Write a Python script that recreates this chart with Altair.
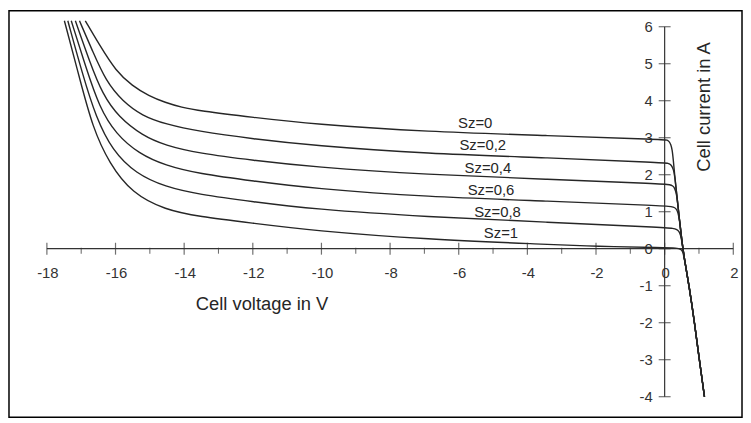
import altair as alt
import pandas as pd

# ---- data ----
SZ_NAMES = ["Sz=0", "Sz=0,2", "Sz=0,4", "Sz=0,6", "Sz=0,8", "Sz=1"]

V_SZ0 = [-16.88, -16.47, -15.99, -15.51, -15.03, -14.55, -14.07, -13.58, -12.0, -10.26, -6.9, -3.47, 0.0, 0.07, 0.13, 0.18, 0.22, 0.25]
I_SZ0 = [6.16, 5.51, 4.80, 4.40, 4.13, 3.95, 3.82, 3.73, 3.55, 3.37, 3.16, 3.06, 2.95, 2.94, 2.90, 2.82, 2.68, 2.42]

V_SZ02 = [-17.05, -16.67, -16.28, -15.80, -15.22, -14.55, -13.58, -12.0, -10.26, -6.9, -3.47, 0.0, 0.10, 0.17, 0.22, 0.26]
I_SZ02 = [6.16, 5.34, 4.53, 3.99, 3.59, 3.37, 3.17, 2.97, 2.79, 2.57, 2.46, 2.32, 2.31, 2.28, 2.22, 2.12]

V_SZ04 = [-17.17, -16.76, -16.38, -15.90, -15.22, -14.55, -13.58, -12.0, -10.26, -6.9, -3.47, 0.0, 0.15, 0.24, 0.29, 0.33]
I_SZ04 = [6.16, 5.07, 4.17, 3.55, 3.06, 2.79, 2.58, 2.39, 2.21, 2.00, 1.88, 1.75, 1.73, 1.70, 1.64, 1.53]

V_SZ06 = [-17.29, -16.86, -16.47, -15.99, -15.32, -14.55, -13.58, -12.0, -10.26, -6.9, -3.47, 0.0, 0.20, 0.30, 0.35, 0.39]
I_SZ06 = [6.16, 4.89, 3.82, 3.10, 2.57, 2.25, 2.03, 1.83, 1.63, 1.40, 1.29, 1.16, 1.14, 1.11, 1.06, 0.97]

V_SZ08 = [-17.39, -16.96, -16.57, -16.09, -15.41, -14.55, -13.58, -12.0, -10.26, -6.9, -3.47, 0.0, 0.25, 0.36, 0.42, 0.46]
I_SZ08 = [6.16, 4.71, 3.55, 2.65, 2.03, 1.67, 1.47, 1.27, 1.07, 0.86, 0.72, 0.57, 0.55, 0.52, 0.47, 0.38]

V_SZ1 = [-17.49, -17.05, -16.67, -16.18, -15.51, -14.55, -13.58, -12.0, -10.26, -6.9, -3.47, -2.0, 0.0, 0.35, 0.48, 0.53]
I_SZ1 = [6.16, 4.62, 3.28, 2.30, 1.49, 1.05, 0.87, 0.69, 0.49, 0.25, 0.12, 0.06, 0.03, 0.02, -0.01, -0.08]

# common forward-bias branch that all curves share
V_COMMON = [0.29, 0.36, 0.43, 0.50, 0.57, 0.72, 0.87, 1.01, 1.16]
I_COMMON = [2.00, 1.40, 0.80, 0.22, -0.25, -1.05, -2.00, -3.00, -4.00]

# where each curve joins the common branch (index into V_COMMON)
JOIN_AT = [0, 0, 1, 2, 3, 4]

LABEL_V = [-5.52, -5.30, -5.15, -5.06, -4.87, -4.77]
LABEL_I = [3.41, 2.79, 2.17, 1.58, 1.00, 0.41]

X_MAJOR = [-18, -16, -14, -12, -10, -8, -6, -4, -2, 0, 2]
X_MINOR = [-17, -15, -13, -11, -9, -7, -5, -3, -1, 1]
Y_TICKS = [-4, -3, -2, -1, 0, 1, 2, 3, 4, 5, 6]
X_TICK_TEXT = ["-18", "-16", "-14", "-12", "-10", "-8", "-6", "-4", "-2", "0", "2"]
Y_TICK_TEXT = ["-4", "-3", "-2", "-1", "0", "1", "2", "3", "4", "5", "6"]

X_AXIS_SPAN = [-18, 2]
Y_AXIS_SPAN = [-4, 6]

X_TITLE = "Cell voltage in V"
Y_TITLE = "Cell current in A"
X_TITLE_POS = (-11.73, -1.50)
Y_TITLE_POS = (1.16, 3.83)

# ---- build tables ----
curve_sets = [(V_SZ0, I_SZ0), (V_SZ02, I_SZ02), (V_SZ04, I_SZ04),
              (V_SZ06, I_SZ06), (V_SZ08, I_SZ08), (V_SZ1, I_SZ1)]
rows = []
for name, (vs, cs), j in zip(SZ_NAMES, curve_sets, JOIN_AT):
    vv = list(vs) + V_COMMON[j:]
    ii = list(cs) + I_COMMON[j:]
    for k, (v, c) in enumerate(zip(vv, ii)):
        rows.append({"sz": name, "i": k, "v": v, "c": c})
curves = pd.DataFrame(rows)

labels = pd.DataFrame({"t": SZ_NAMES, "v": LABEL_V, "c": LABEL_I})
axes = pd.DataFrame({"v": [X_AXIS_SPAN[0], 0], "v2": [X_AXIS_SPAN[1], 0],
                     "c": [0, Y_AXIS_SPAN[0]], "c2": [0, Y_AXIS_SPAN[1]]})
xmaj = pd.DataFrame({"v": X_MAJOR, "c": [0] * len(X_MAJOR), "t": X_TICK_TEXT})
xmin = pd.DataFrame({"v": X_MINOR, "c": [0] * len(X_MINOR)})
yt = pd.DataFrame({"v": [0] * len(Y_TICKS), "c": Y_TICKS, "t": Y_TICK_TEXT})
titles = pd.DataFrame({"t": [X_TITLE, Y_TITLE],
                       "v": [X_TITLE_POS[0], Y_TITLE_POS[0]],
                       "c": [X_TITLE_POS[1], Y_TITLE_POS[1]]})

XS = alt.Scale(domain=[-19.104, 2.254], nice=False, zero=False)
YS = alt.Scale(domain=[-4.558, 6.434], nice=False, zero=False)

def X(f="v"):
    return alt.X(f, type="quantitative", scale=XS, axis=None)

def Y(f="c"):
    return alt.Y(f, type="quantitative", scale=YS, axis=None)

FONT = "Liberation Sans"
INK = "#262626"
AX = "#333333"

lines = alt.Chart(curves).mark_line(
    interpolate="basis", color=INK, strokeWidth=1.4
).encode(x=X(), y=Y(), detail="sz:N", order="i:Q")

axis_lines = alt.Chart(axes).mark_rule(color=AX, strokeWidth=1.2).encode(
    x=X(), x2="v2:Q", y=Y(), y2="c2:Q")

xmaj_ticks = alt.Chart(xmaj).mark_tick(
    orient="vertical", size=12, thickness=1.2, color=AX
).encode(x=X(), y=Y())

xmin_ticks = alt.Chart(xmin).mark_tick(
    orient="vertical", size=6, thickness=1.1, color=AX, yOffset=2
).encode(x=X(), y=Y())

y_ticks = alt.Chart(yt).mark_tick(
    orient="horizontal", size=12, thickness=1.2, color=AX
).encode(x=X(), y=Y())

xlab = alt.Chart(xmaj).mark_text(
    font=FONT, fontSize=15, color=AX, dy=25, dx=1, baseline="middle", align="center"
).encode(x=X(), y=Y(), text="t:N")

ylab = alt.Chart(yt).mark_text(
    font=FONT, fontSize=15, color=AX, dx=-12, baseline="middle", align="right"
).encode(x=X(), y=Y(), text="t:N")

curve_labels = alt.Chart(labels).mark_text(
    font=FONT, fontSize=15, color=INK, baseline="middle", align="center"
).encode(x=X(), y=Y(), text="t:N")

xtitle = alt.Chart(titles.iloc[[0]]).mark_text(
    font=FONT, fontSize=18.5, color=INK, baseline="middle", align="center"
).encode(x=X(), y=Y(), text="t:N")

ytitle = alt.Chart(titles.iloc[[1]]).mark_text(
    font=FONT, fontSize=18.5, color=INK, baseline="middle", align="center", angle=270
).encode(x=X(), y=Y(), text="t:N")

chart = alt.layer(
    axis_lines, xmaj_ticks, xmin_ticks, y_ticks, xlab, ylab,
    lines, curve_labels, xtitle, ytitle
).properties(
    width=739, height=410, padding=1,
    autosize=alt.AutoSizeParams(type="none"),
    background="white"
).configure_view(stroke="black", strokeWidth=1.5)

chart.save("out.html", embed_options={"renderer": "svg", "actions": False})
